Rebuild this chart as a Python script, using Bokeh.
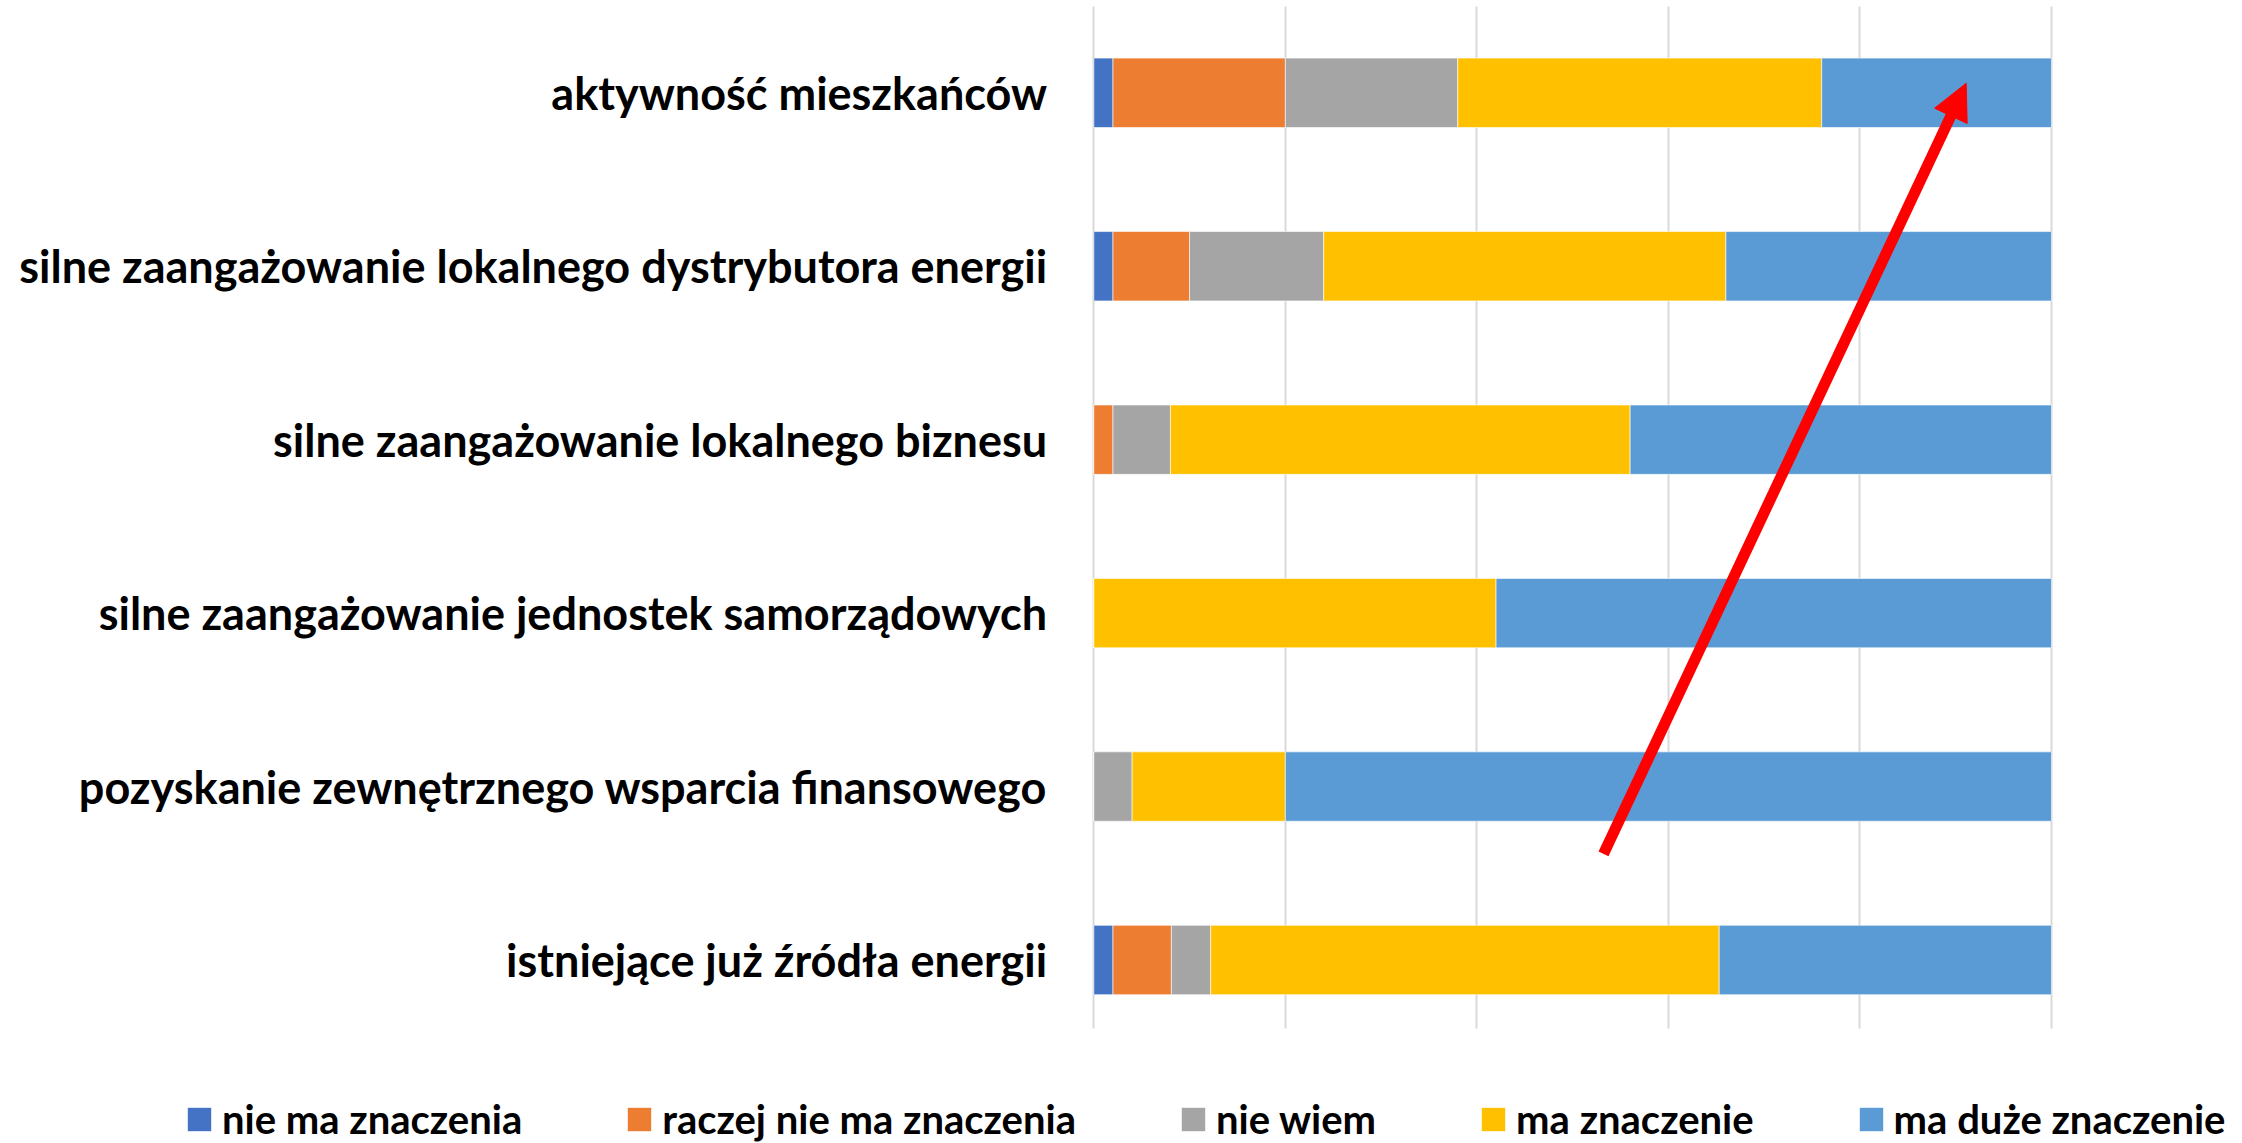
from bokeh.plotting import figure
from bokeh.models import (ColumnDataSource, Range1d, FixedTicker, Legend, LegendItem,
                          Arrow, NormalHead, Grid, BoxAnnotation)
from bokeh.core.properties import value
from bokeh.embed import file_html
from bokeh.resources import INLINE

# ---------------- data ----------------
categories = [
    "aktywność mieszkańców",
    "silne zaangażowanie lokalnego dystrybutora energii",
    "silne zaangażowanie lokalnego biznesu",
    "silne zaangażowanie jednostek samorządowych",
    "pozyskanie zewnętrznego wsparcia finansowego",
    "istniejące już źródła energii",
]
series_names = ["nie ma znaczenia", "raczej nie ma znaczenia", "nie wiem",
                "ma znaczenie", "ma duże znaczenie"]
nie_ma_znaczenia = [2.0, 2.0, 0.0, 0.0, 0.0, 2.0]
raczej_nie_ma_znaczenia = [18.0, 8.0, 2.0, 0.0, 0.0, 6.1]
nie_wiem = [18.0, 14.0, 6.0, 0.0, 4.0, 4.1]
ma_znaczenie = [38.0, 42.0, 48.0, 42.0, 16.0, 53.1]
ma_duze_znaczenie = [24.0, 34.0, 44.0, 58.0, 80.0, 34.7]
x_ticks = [0, 20, 40, 60, 80, 100]
colors = ["#4472C4", "#ED7D31", "#A5A5A5", "#FFC000", "#5B9BD5"]

# arrow annotation (data coordinates)
arrow_x_start, arrow_y_start = 53.22, 0.612
arrow_x_end, arrow_y_end = 91.09, 5.055

FONT = "Lato"
LABEL_X = -4.87            # right edge of category labels (data units)
GRID_Y = (-0.395, 5.4976)  # vertical extent of the value gridlines

ys = list(range(len(categories)))[::-1]
keys = ["s0", "s1", "s2", "s3", "s4"]
source = ColumnDataSource(dict(
    y=ys,
    s0=nie_ma_znaczenia,
    s1=raczej_nie_ma_znaczenia,
    s2=nie_wiem,
    s3=ma_znaczenie,
    s4=ma_duze_znaczenie,
))
label_source = ColumnDataSource(dict(y=ys, text=categories, x=[LABEL_X] * len(ys)))

p = figure(width=2226, height=1143,
           x_range=Range1d(-114.16, 118.27), y_range=Range1d(-1.058, 5.5322),
           output_backend="svg", toolbar_location=None,
           x_axis_location=None, y_axis_location=None,
           min_border=0, min_border_left=0, min_border_right=0,
           min_border_top=0, min_border_bottom=0)
p.outline_line_color = None
p.background_fill_color = "white"
p.border_fill_color = "white"

# hide any default grids
for r in list(p.center):
    if isinstance(r, Grid):
        r.visible = False

# value gridlines (0..100 %)
grid = Grid(dimension=0, ticker=FixedTicker(ticks=x_ticks),
            grid_line_color="#D9D9D9", grid_line_width=2)
has_cross = "cross_bounds" in Grid.properties()
if has_cross:
    grid.cross_bounds = GRID_Y
p.add_layout(grid)
if not has_cross:
    p.add_layout(BoxAnnotation(top=GRID_Y[0], fill_color="white", fill_alpha=1,
                               line_alpha=0, level="underlay"))
    p.add_layout(BoxAnnotation(bottom=GRID_Y[1], fill_color="white", fill_alpha=1,
                               line_alpha=0, level="underlay"))

renderers = p.hbar_stack(keys, y="y", height=0.4, color=colors, source=source,
                         line_color="white", line_width=1, line_alpha=0.6)

# category labels
p.text(x="x", y="y", text="text", source=label_source,
       text_align="right", text_baseline="middle",
       text_font=value(FONT), text_font_style="bold", text_font_size="45px",
       text_color="black")

p.add_layout(Arrow(end=NormalHead(size=36, fill_color="#FF0000", line_color="#FF0000"),
                   x_start=arrow_x_start, y_start=arrow_y_start,
                   x_end=arrow_x_end, y_end=arrow_y_end,
                   line_color="#FF0000", line_width=11))

# legend
items = [LegendItem(label=n, renderers=[r]) for n, r in zip(series_names, renderers)]
legend = Legend(items=items, orientation="horizontal", location=(184, -3),
                spacing=102, glyph_width=30, glyph_height=30, label_standoff=8,
                padding=0, margin=0, border_line_alpha=0, background_fill_alpha=0,
                label_text_font=FONT, label_text_font_style="bold",
                label_text_baseline="alphabetic",
                label_text_font_size="40px", label_height=54, label_text_color="black")
p.add_layout(legend)

open("out.html", "w").write(file_html(p, INLINE))
